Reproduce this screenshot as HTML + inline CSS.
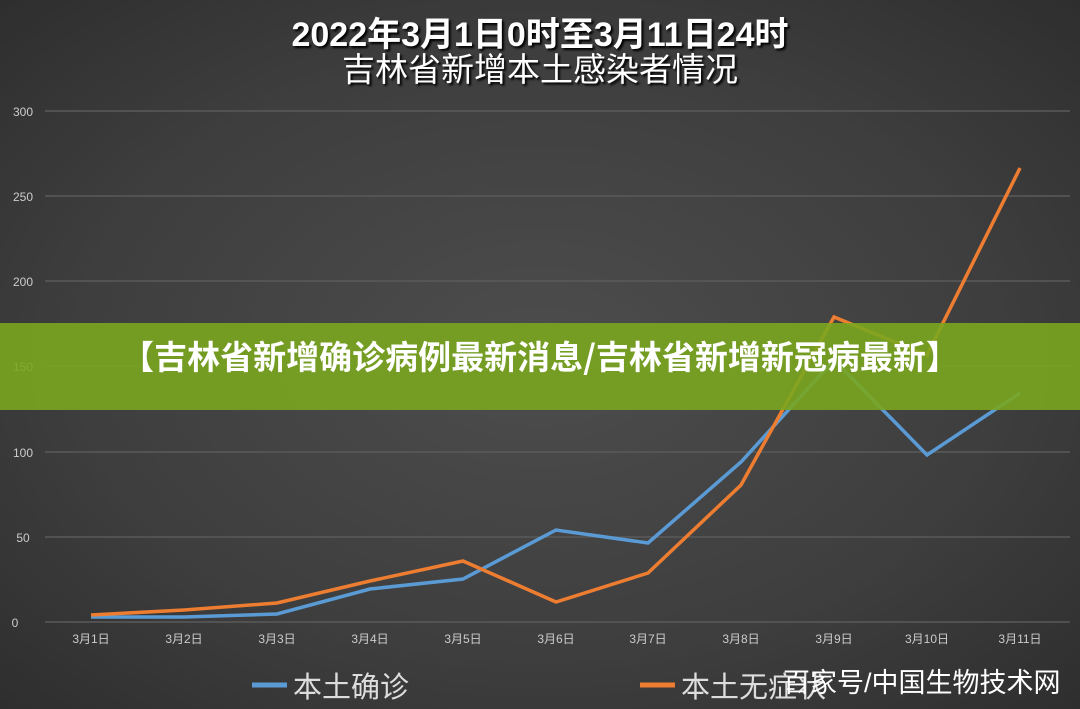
<!DOCTYPE html>
<html><head><meta charset="utf-8"><style>
body{margin:0;width:1080px;height:709px;overflow:hidden;background:radial-gradient(ellipse at 50% 50%,#4d4d4d 0%,#3e3e3e 60%,#2e2e2e 100%);font-family:"Liberation Sans","Noto Sans CJK SC",sans-serif;position:relative}
svg{position:absolute;left:0;top:0}
.banner{position:absolute;left:0;top:323px;width:1080px;height:87px;background:rgba(122,166,31,0.9);color:#fff;font-weight:bold;font-size:33px;line-height:64px;text-align:center;font-family:"Noto Sans CJK SC",sans-serif}
</style></head><body>
<svg width="1080" height="709">
<g font-family="Liberation Sans,Noto Sans CJK SC,sans-serif" fill="#fff" text-anchor="middle" style="text-shadow:2px 2px 2px #000">
<text x="540" y="46" font-size="34" font-weight="bold">2022年3月1日0时至3月11日24时</text>
<text x="540" y="81" font-size="33">吉林省新增本土感染者情况</text>
</g>
<g stroke="#5a5a5a" stroke-width="1.5">
<line x1="45" x2="1070" y1="111" y2="111"/><line x1="45" x2="1070" y1="196" y2="196"/><line x1="45" x2="1070" y1="281" y2="281"/><line x1="45" x2="1070" y1="366" y2="366"/><line x1="45" x2="1070" y1="452" y2="452"/><line x1="45" x2="1070" y1="537" y2="537"/><line x1="45" x2="1070" y1="622" y2="622"/>
</g>
<g fill="#ccc" font-size="12" text-anchor="middle">
<text x="23" y="116">300</text><text x="23" y="201">250</text><text x="23" y="286">200</text><text x="23" y="371">150</text><text x="23" y="457">100</text><text x="23" y="542">50</text><text x="15" y="627">0</text>
<text x="91" y="643">3月1日</text><text x="184" y="643">3月2日</text><text x="277" y="643">3月3日</text><text x="370" y="643">3月4日</text><text x="463" y="643">3月5日</text><text x="556" y="643">3月6日</text><text x="648" y="643">3月7日</text><text x="741" y="643">3月8日</text><text x="834" y="643">3月9日</text><text x="927" y="643">3月10日</text><text x="1020" y="643">3月11日</text>
</g>
<polyline fill="none" stroke="#5b9bd5" stroke-width="3.5" points="91,617 184,617 277,614 370,589 463,579 556,530 648,543 741,462 834,360 927,455 1020,393"/>
<polyline fill="none" stroke="#ed7d31" stroke-width="3.5" points="91,615 184,610 277,603 370,581 463,561 556,602 648,573 741,485 834,317 927,355 1020,168"/>
<line x1="252" x2="287" y1="685" y2="685" stroke="#5b9bd5" stroke-width="5"/>
<line x1="640" x2="675" y1="685" y2="685" stroke="#ed7d31" stroke-width="5"/>
<g fill="#ddd" font-size="29"><text x="293" y="697">本土确诊</text><text x="681" y="697">本土无症状</text></g>
<text x="783" y="692" fill="#fff" font-size="27">百家号/中国生物技术网</text>
</svg>
<div class="banner">【吉林省新增确诊病例最新消息/吉林省新增新冠病最新】</div>
</body></html>
